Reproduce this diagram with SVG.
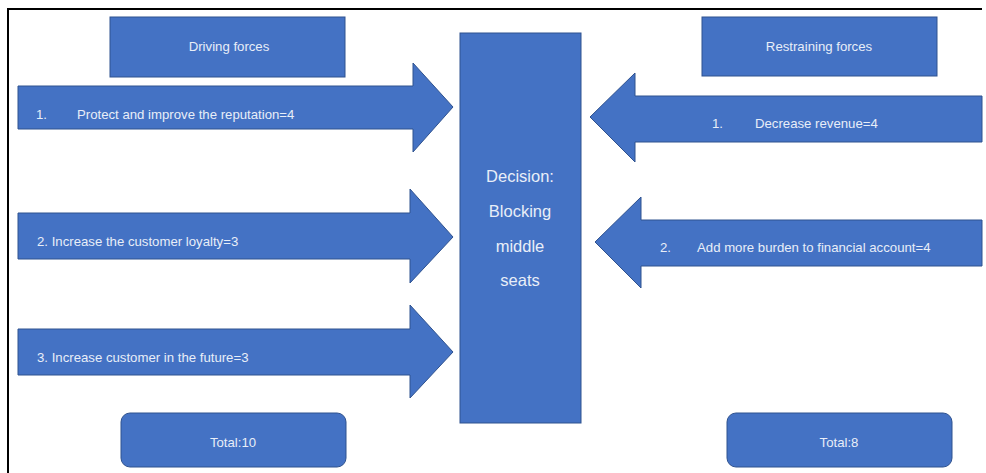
<svg xmlns="http://www.w3.org/2000/svg" width="986" height="473" viewBox="0 0 986 473">
<style>
.shape{fill:#4472C4;stroke:#2F528F;stroke-width:1}
.t{font-family:"Liberation Sans",Arial,sans-serif;fill:#e8eef8;font-size:13.2px}
.c{text-anchor:middle}
.big{font-size:16.5px}
</style>
<rect width="986" height="473" fill="#fff"/>
<path d="M8,473 V9 H982" fill="none" stroke="#000" stroke-width="2"/>
<g id="driving-forces">
<rect class="shape" x="110" y="17" width="235" height="60"/>
<text class="t c" x="229" y="51">Driving forces</text>
</g>
<g id="restraining-forces">
<rect class="shape" x="702" y="17" width="235" height="59"/>
<text class="t c" x="819" y="51">Restraining forces</text>
</g>
<g id="decision">
<rect class="shape" x="460" y="33" width="121" height="390"/>
<text class="t c big" x="520" y="182">Decision:</text>
<text class="t c big" x="520" y="217">Blocking</text>
<text class="t c big" x="520" y="252">middle</text>
<text class="t c big" x="520" y="286">seats</text>
</g>
<g id="total-driving">
<rect class="shape" x="121" y="413" width="225" height="54" rx="9"/>
<text class="t c" x="233" y="447">Total:10</text>
</g>
<g id="total-restraining">
<rect class="shape" x="727" y="413" width="225" height="54" rx="9"/>
<text class="t c" x="839" y="447">Total:8</text>
</g>
<g id="connectors">
<g id="arrow-d1">
<path class="shape" d="M18,86 H413 V63 L453,107 L413,152 V129 H18 Z"/>
<text class="t" x="36" y="119">1.</text>
<text class="t" x="77" y="119">Protect and improve the reputation=4</text>
</g>
<g id="arrow-d2">
<path class="shape" d="M18,213 H410 V189 L453,237 L410,283 V259 H18 Z"/>
<text class="t" x="37" y="246">2. Increase the customer loyalty=3</text>
</g>
<g id="arrow-d3">
<path class="shape" d="M18,329 H410 V305 L453,352 L410,398 V375 H18 Z"/>
<text class="t" x="37" y="362">3. Increase customer in the future=3</text>
</g>
<g id="arrow-r1">
<path class="shape" d="M982,96 H635 V73 L590,117 L635,162 V142 H982 Z"/>
<text class="t" x="712" y="128">1.</text>
<text class="t" x="755" y="128">Decrease revenue=4</text>
</g>
<g id="arrow-r2">
<path class="shape" d="M982,220 H641 V197 L595,242 L641,288 V266 H982 Z"/>
<text class="t" x="660" y="252">2.</text>
<text class="t" x="697" y="252">Add more burden to financial account=4</text>
</g>
</g>
</svg>
